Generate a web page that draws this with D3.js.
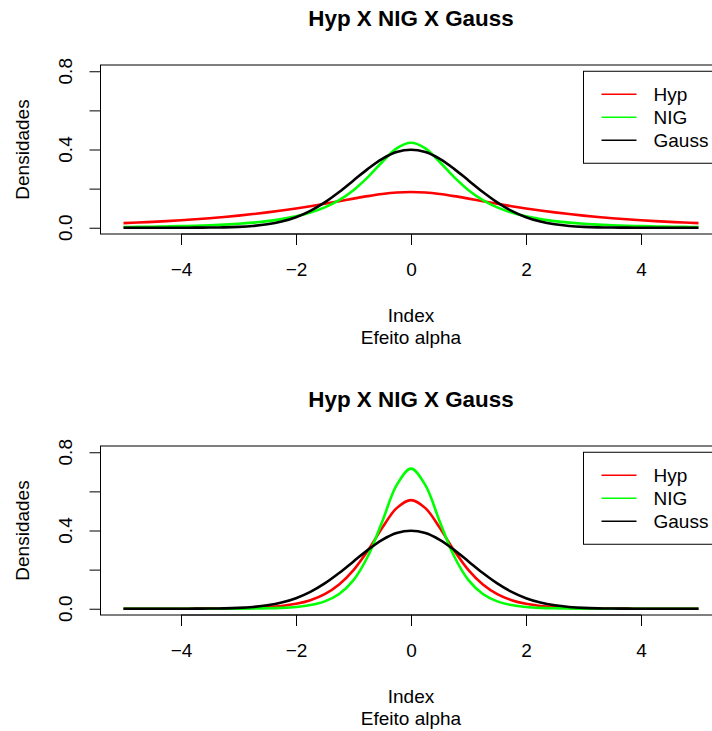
<!DOCTYPE html>
<html lang="en">
<head>
<meta charset="UTF-8">
<title>Hyp X NIG X Gauss</title>
<style>
  body { margin: 0; background: #fff; }
  svg text { font-family: "Liberation Sans", Arial, Helvetica, sans-serif; fill: #000; }
</style>
</head>
<body>
<svg id="main-svg" width="712" height="731"></svg>
<script src="https://cdn.jsdelivr.net/npm/d3@7/dist/d3.min.js"></script>
<script>
// grid of x values the densities were read at
const xGrid = [-5, -4.75, -4.5, -4.25, -4, -3.75, -3.5, -3.25, -3, -2.75, -2.5, -2.25, -2, -1.75, -1.5, -1.25, -1, -0.75, -0.5, -0.25,
  0, 0.25, 0.5, 0.75, 1, 1.25, 1.5, 1.75, 2, 2.25, 2.5, 2.75, 3, 3.25, 3.5, 3.75, 4, 4.25, 4.5, 4.75, 5];

const gaussDens = [0.00000, 0.00001, 0.00002, 0.00005, 0.00013, 0.00035, 0.00087, 0.00203, 0.00443, 0.00909, 0.01753, 0.03174, 0.05399, 0.08628, 0.12952, 0.18265, 0.24197, 0.30114, 0.35207, 0.38667,
  0.39894, 0.38667, 0.35207, 0.30114, 0.24197, 0.18265, 0.12952, 0.08628, 0.05399, 0.03174, 0.01753, 0.00909, 0.00443, 0.00203, 0.00087, 0.00035, 0.00013, 0.00005, 0.00002, 0.00001, 0.00000];

// top panel (small alpha)
const hypTop = [0.02358, 0.02665, 0.03012, 0.03402, 0.03841, 0.04336, 0.04891, 0.05513, 0.06210, 0.06989, 0.07854, 0.08813, 0.09868, 0.11018, 0.12255, 0.13558, 0.14883, 0.16157, 0.17259, 0.18029,
  0.18308, 0.18029, 0.17259, 0.16157, 0.14883, 0.13558, 0.12255, 0.11018, 0.09868, 0.08813, 0.07854, 0.06989, 0.06210, 0.05513, 0.04891, 0.04336, 0.03841, 0.03402, 0.03012, 0.02665, 0.02358];
const nigTop = [0.00358, 0.00437, 0.00537, 0.00662, 0.00821, 0.01023, 0.01281, 0.01615, 0.02050, 0.02623, 0.03385, 0.04412, 0.05807, 0.07733, 0.10404, 0.14116, 0.19205, 0.25860, 0.33613, 0.40551,
  0.43466, 0.40551, 0.33613, 0.25860, 0.19205, 0.14116, 0.10404, 0.07733, 0.05807, 0.04412, 0.03385, 0.02623, 0.02050, 0.01615, 0.01281, 0.01023, 0.00821, 0.00662, 0.00537, 0.00437, 0.00358];

// bottom panel (large alpha)
const hypBottom = [0.00002, 0.00004, 0.00007, 0.00012, 0.00023, 0.00041, 0.00076, 0.00138, 0.00249, 0.00450, 0.00807, 0.01436, 0.02527, 0.04385, 0.07465, 0.12370, 0.19720, 0.29731, 0.41351, 0.51431,
  0.55545, 0.51431, 0.41351, 0.29731, 0.19720, 0.12370, 0.07465, 0.04385, 0.02527, 0.01436, 0.00807, 0.00450, 0.00249, 0.00138, 0.00076, 0.00041, 0.00023, 0.00012, 0.00007, 0.00004, 0.00002];
const nigBottom = [0.00000, 0.00000, 0.00001, 0.00002, 0.00003, 0.00006, 0.00013, 0.00026, 0.00053, 0.00107, 0.00219, 0.00447, 0.00913, 0.01863, 0.03777, 0.07543, 0.14626, 0.26824, 0.44589, 0.63164,
  0.71634, 0.63164, 0.44589, 0.26824, 0.14626, 0.07543, 0.03777, 0.01863, 0.00913, 0.00447, 0.00219, 0.00107, 0.00053, 0.00026, 0.00013, 0.00006, 0.00003, 0.00002, 0.00001, 0.00000, 0.00000];

const seriesNames = ["Hyp", "NIG", "Gauss"];
const seriesColors = ["#ff0000", "#00ff00", "#000000"];
const xTicks = [-4, -2, 0, 2, 4];
const yTicks = [0, 0.2, 0.4, 0.6, 0.8];
const yTickLabels = ["0.0", "", "0.4", "", "0.8"];
const legendAt = [3, 0.8];   // legend(x, y) in data units
const titleText = "Hyp X NIG X Gauss";
const xLabel = "Index";
const subLabel = "Efeito alpha";
const yLabel = "Densidades";

const svg = d3.select('#main-svg');
const fontSize = 19;
const titleSize = 22.4;

// R pads the data range by 4%
const x = d3.scaleLinear().domain([-5.4, 5.4]).range([100.5, 721.5]);

let drawPanel = (top, hyp, nig) => {
  const y = d3.scaleLinear().domain([-0.032, 0.832]).range([top + 169, top]);
  const bottom = top + 169;
  const g = svg.append('g');

  // title
  g.append('text').attr('x', (100.5 + 721.5) / 2).attr('y', top - 39)
    .attr('text-anchor', 'middle').style('font-weight', 'bold').style('font-size', titleSize + 'px')
    .text(titleText);

  // curves, clipped to plot region
  const clipId = 'clip' + top;
  g.append('clipPath').attr('id', clipId).append('rect')
    .attr('x', 100.5).attr('y', top).attr('width', 621).attr('height', 169);

  const line = d3.line().x(d => x(d[0])).y(d => y(d[1])).curve(d3.curveCatmullRom);
  const curves = [hyp, nig, gaussDens];
  curves.forEach((vals, i) => {
    g.append('path')
      .datum(xGrid.map((xv, j) => [xv, vals[j]]))
      .attr('clip-path', 'url(#' + clipId + ')')
      .attr('fill', 'none')
      .attr('stroke', seriesColors[i])
      .attr('stroke-width', 2.6)
      .attr('stroke-linejoin', 'round')
      .attr('d', line);
  });

  // x axis
  const xAxis = g.append('g').attr('transform', 'translate(0,' + bottom + ')')
    .call(d3.axisBottom(x).tickValues(xTicks).tickSize(11).tickFormat(d => d < 0 ? '\u2212' + Math.abs(d) : d));
  xAxis.select('.domain').remove();
  xAxis.selectAll('.tick line').attr('stroke', '#000');
  xAxis.selectAll('.tick text').attr('y', 42).attr('dy', 0)
    .style('font-size', fontSize + 'px').style('font-family', null);
  g.append('line').attr('x1', x(xTicks[0])).attr('x2', x(xTicks[xTicks.length - 1]))
    .attr('y1', bottom).attr('y2', bottom).attr('stroke', '#000');

  // y axis
  const yAxis = g.append('g').attr('transform', 'translate(100.5,0)')
    .call(d3.axisLeft(y).tickValues(yTicks).tickSize(11).tickFormat(''));
  yAxis.select('.domain').remove();
  yAxis.selectAll('.tick line').attr('stroke', '#000');
  g.append('line').attr('x1', 100.5).attr('x2', 100.5)
    .attr('y1', y(yTicks[0])).attr('y2', y(yTicks[yTicks.length - 1])).attr('stroke', '#000');
  g.selectAll('.ylab').data(yTicks).enter().append('text')
    .attr('transform', d => 'translate(72,' + y(d) + ') rotate(-90)')
    .attr('text-anchor', 'middle').style('font-size', fontSize + 'px')
    .text((d, i) => yTickLabels[i]);

  // box
  g.append('rect').attr('x', 100.5).attr('y', top).attr('width', 621).attr('height', 169)
    .attr('fill', 'none').attr('stroke', '#000');

  // axis titles
  g.append('text').attr('transform', 'translate(28.5,' + (top + 84.5) + ') rotate(-90)')
    .attr('text-anchor', 'middle').style('font-size', fontSize + 'px').text(yLabel);
  g.append('text').attr('x', (100.5 + 721.5) / 2).attr('y', bottom + 88)
    .attr('text-anchor', 'middle').style('font-size', fontSize + 'px').text(xLabel);
  g.append('text').attr('x', (100.5 + 721.5) / 2).attr('y', bottom + 110)
    .attr('text-anchor', 'middle').style('font-size', fontSize + 'px').text(subLabel);

  // legend
  const lx = x(legendAt[0]);
  const ly = y(legendAt[1]);
  const rowH = 23;
  g.append('rect').attr('x', lx).attr('y', ly).attr('width', 721.5 - lx).attr('height', rowH * (seriesNames.length + 1))
    .attr('fill', '#fff').attr('stroke', '#000');
  seriesNames.forEach((name, i) => {
    const ry = ly + rowH * (i + 1);
    g.append('line').attr('x1', lx + 18).attr('x2', lx + 53).attr('y1', ry).attr('y2', ry)
      .attr('stroke', seriesColors[i]).attr('stroke-width', 1.4);
    g.append('text').attr('x', lx + 70).attr('y', ry + 6.5)
      .style('font-size', fontSize + 'px').text(name);
  });
};

drawPanel(65, hypTop, nigTop);
drawPanel(446, hypBottom, nigBottom);
</script>
</body>
</html>
